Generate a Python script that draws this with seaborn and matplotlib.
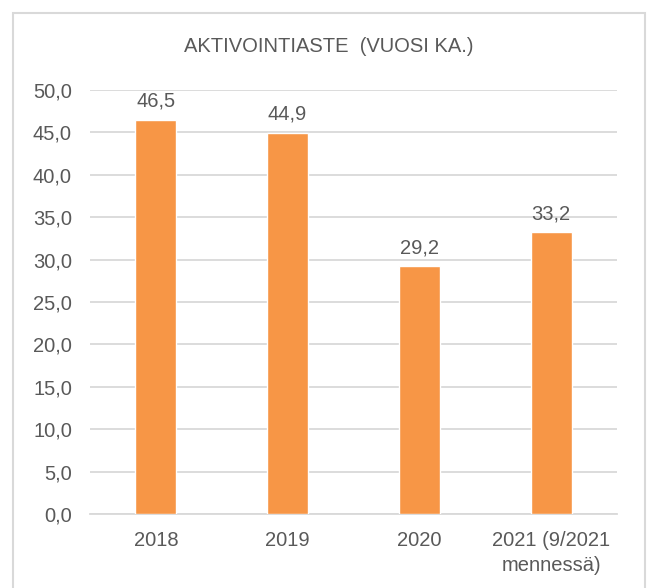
import matplotlib
matplotlib.use("Agg")
import matplotlib.pyplot as plt
import seaborn as sns
import pandas as pd
from matplotlib.patches import Rectangle

# data
years = ["2018", "2019", "2020", "2021 (9/2021\nmennessä)"]
rates = [46.5, 44.9, 29.2, 33.2]
title = "AKTIVOINTIASTE  (VUOSI KA.)"

sns.set_style("white")
plt.rcParams["font.family"] = ["Liberation Sans Narrow", "Liberation Sans", "DejaVu Sans"]
text_color = "#595959"
bar_color = "#F79646"
fs = 14.5

df = pd.DataFrame({"vuosi": years, "aste": rates})

fig = plt.figure(figsize=(6.52, 5.88), dpi=100)
ax = fig.add_axes([90 / 652, 1 - 514 / 588, 527 / 652, 424 / 588])

sns.barplot(data=df, x="vuosi", y="aste", color=bar_color, saturation=1,
            width=0.31, ax=ax, zorder=3)

ax.set_ylim(0, 50)
ax.set_yticks([i * 5 for i in range(11)])
ax.set_yticklabels([f"{i * 5:.1f}".replace(".", ",") for i in range(11)])
ax.yaxis.grid(True, color="#D9D9D9", linewidth=1.3, zorder=0)
ax.set_axisbelow(True)
for s in ["top", "right", "left"]:
    ax.spines[s].set_visible(False)
ax.spines["bottom"].set_color("#D9D9D9")
ax.spines["bottom"].set_linewidth(1.3)
ax.tick_params(axis="both", length=0, labelsize=fs, colors=text_color)
ax.tick_params(axis="y", pad=13)
ax.tick_params(axis="x", pad=12)
for lbl in ax.get_xticklabels():
    lbl.set_linespacing(1.45)
ax.set_xlabel("")
ax.set_ylabel("")

for p, v in zip(ax.patches, rates):
    ax.text(p.get_x() + p.get_width() / 2, v + 1.1, f"{v:.1f}".replace(".", ","),
            ha="center", va="bottom", fontsize=fs, color=text_color)

fig.text(329 / 652, 1 - 47 / 588, title, ha="center", va="center",
         fontsize=fs, color=text_color)

# outer chart frame
fig.patches.append(Rectangle((13 / 652, -0.05), 632 / 652, 1 - 13 / 588 + 0.05,
                             transform=fig.transFigure, fill=False,
                             edgecolor="#D9D9D9", linewidth=1.5))

fig.savefig("out.png", dpi=100)
